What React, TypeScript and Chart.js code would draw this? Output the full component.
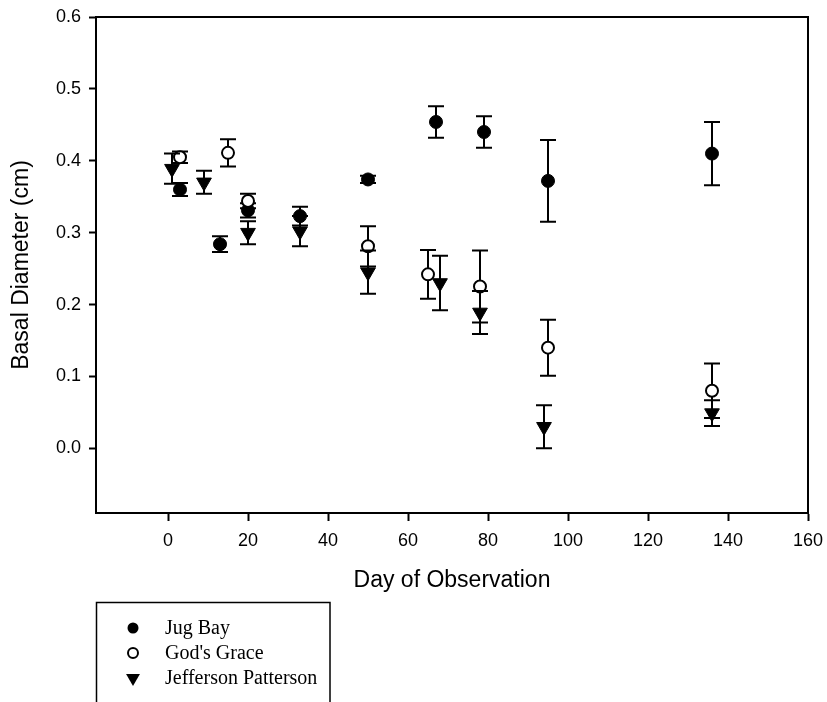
import { useEffect, useRef } from 'react';
import { Chart, registerables } from 'chart.js';

Chart.register(...registerables);

const seriesNames = ['Jug Bay', "God's Grace", 'Jefferson Patterson'];

const jugBayDays = [3, 13, 20, 33, 50, 67, 79, 95, 136];
const jugBayMean = [0.36, 0.284, 0.331, 0.323, 0.374, 0.454, 0.44, 0.372, 0.41];
const jugBayErr = [0.009, 0.011, 0.01, 0.013, 0.005, 0.022, 0.022, 0.057, 0.044];

const godsGraceDays = [3, 15, 20, 50, 65, 78, 95, 136];
const godsGraceMean = [0.405, 0.411, 0.344, 0.281, 0.242, 0.225, 0.14, 0.08];
const godsGraceErr = [0.008, 0.019, 0.01, 0.028, 0.034, 0.05, 0.039, 0.038];

const jeffDays = [1, 9, 20, 33, 50, 68, 78, 94, 136];
const jeffMean = [0.389, 0.37, 0.3, 0.302, 0.245, 0.23, 0.189, 0.03, 0.049];
const jeffErr = [0.021, 0.016, 0.016, 0.021, 0.03, 0.038, 0.03, 0.03, 0.018];

const xMin = -18;
const xMax = 160;
const xStep = 20;
const yMin = -0.09;
const yMax = 0.6;
const yStep = 0.1;

const W = 827;
const H = 702;
const SANS = 'Arial, "Liberation Sans", sans-serif';
const SERIF = '"Times New Roman", "Liberation Serif", serif';

function toPoints(xs: number[], ys: number[]) {
  return xs.map((x, i) => ({ x, y: ys[i] }));
}

const errorBarPlugin = {
  id: 'errorBars',
  beforeDatasetDraw(chart: any, args: any) {
    const ds = chart.data.datasets[args.index];
    const errs: number[] = ds.errors || [];
    const ys = chart.scales.y;
    const ctx = chart.ctx;
    ctx.save();
    ctx.strokeStyle = '#000';
    ctx.lineWidth = 2;
    args.meta.data.forEach((el: any, i: number) => {
      const v = ds.data[i].y;
      const e = errs[i] || 0;
      const x = el.x;
      const yt = ys.getPixelForValue(v + e);
      const yb = ys.getPixelForValue(v - e);
      const cap = 8;
      ctx.beginPath();
      ctx.moveTo(x, yt);
      ctx.lineTo(x, yb);
      ctx.moveTo(x - cap, yt);
      ctx.lineTo(x + cap, yt);
      ctx.moveTo(x - cap, yb);
      ctx.lineTo(x + cap, yb);
      ctx.stroke();
    });
    ctx.restore();
  },
};

function drawMarker(ctx: CanvasRenderingContext2D, kind: number, x: number, y: number) {
  ctx.save();
  ctx.strokeStyle = '#000';
  ctx.fillStyle = '#000';
  ctx.lineWidth = 2;
  ctx.beginPath();
  if (kind === 0) {
    ctx.arc(x, y, 5.5, 0, Math.PI * 2);
    ctx.fill();
  } else if (kind === 1) {
    ctx.fillStyle = '#fff';
    ctx.arc(x, y, 5, 0, Math.PI * 2);
    ctx.fill();
    ctx.stroke();
  } else {
    const r = 8;
    ctx.moveTo(x, y + r);
    ctx.lineTo(x - r * 0.866, y - r / 2);
    ctx.lineTo(x + r * 0.866, y - r / 2);
    ctx.closePath();
    ctx.fill();
  }
  ctx.restore();
}

const framePlugin = {
  id: 'frameAndLegend',
  afterDraw(chart: any) {
    const ctx = chart.ctx;
    const a = chart.chartArea;
    ctx.save();
    ctx.strokeStyle = '#000';
    ctx.lineWidth = 2;
    ctx.beginPath();
    ctx.moveTo(a.left, a.top);
    ctx.lineTo(a.right, a.top);
    ctx.lineTo(a.right, a.bottom);
    ctx.stroke();

    // legend box
    ctx.lineWidth = 1.5;
    ctx.strokeRect(96.5, 602.5, 233.5, 130);
    ctx.font = '20px ' + SERIF;
    ctx.fillStyle = '#000';
    ctx.textBaseline = 'middle';
    ctx.textAlign = 'left';
    const rows = [628, 653, 678];
    chart.data.datasets.forEach((ds: any) => {
      const k = ds.legendIndex;
      drawMarker(ctx, k, 133, rows[k]);
      ctx.fillText(ds.label, 165, rows[k] + 1);
    });
    ctx.restore();
  },
};

export default function App() {
  const ref = useRef<HTMLCanvasElement | null>(null);
  useEffect(() => {
    if (!ref.current) return;
    const tickFont = { family: SANS, size: 18 };
    const titleFont = { family: SANS, size: 23 };
    const chart = new Chart(ref.current, {
      type: 'scatter',
      data: {
        datasets: [
          {
            label: seriesNames[0],
            data: toPoints(jugBayDays, jugBayMean),
            errors: jugBayErr,
            legendIndex: 0,
            order: 3,
            pointStyle: 'circle',
            pointRadius: 6.5,
            backgroundColor: '#000',
            borderColor: '#000',
            borderWidth: 1,
          } as any,
          {
            label: seriesNames[1],
            data: toPoints(godsGraceDays, godsGraceMean),
            errors: godsGraceErr,
            legendIndex: 1,
            order: 2,
            pointStyle: 'circle',
            pointRadius: 6,
            backgroundColor: '#fff',
            borderColor: '#000',
            borderWidth: 2,
          } as any,
          {
            label: seriesNames[2],
            data: toPoints(jeffDays, jeffMean),
            errors: jeffErr,
            legendIndex: 2,
            order: 1,
            pointStyle: 'triangle',
            rotation: 180,
            pointRadius: 8.5,
            backgroundColor: '#000',
            borderColor: '#000',
            borderWidth: 1,
          } as any,
        ],
      },
      options: {
        animation: false,
        responsive: false,
        devicePixelRatio: 1,
        layout: { padding: { left: 0, right: 19, top: 17, bottom: 108 } },
        plugins: { legend: { display: false }, tooltip: { enabled: false } },
        scales: {
          x: {
            type: 'linear',
            min: xMin,
            max: xMax,
            ticks: {
              stepSize: xStep,
              includeBounds: false,
              color: '#000',
              font: tickFont,
              padding: 9,
              maxRotation: 0,
              autoSkip: false,
            },
            grid: {
              display: true,
              drawOnChartArea: false,
              drawTicks: true,
              tickLength: 8,
              tickColor: '#000',
              tickWidth: 2,
            },
            border: { display: true, color: '#000', width: 2 },
            title: {
              display: true,
              text: 'Day of Observation',
              color: '#000',
              font: titleFont,
              padding: { top: 4, bottom: 0 },
            },
            afterFit: (s: any) => {
              s.height = H - 108 - 513;
              s.paddingLeft = 0;
              s.paddingRight = 0;
            },
          },
          y: {
            type: 'linear',
            min: yMin,
            max: yMax,
            ticks: {
              stepSize: yStep,
              includeBounds: false,
              color: '#000',
              font: tickFont,
              padding: 8,
              callback: (v: any) => Number(v).toFixed(1),
            },
            grid: {
              display: true,
              drawOnChartArea: false,
              drawTicks: true,
              tickLength: 7,
              tickColor: '#000',
              tickWidth: 2,
            },
            border: { display: true, color: '#000', width: 2 },
            title: {
              display: true,
              text: 'Basal Diameter (cm)',
              color: '#000',
              font: titleFont,
              padding: { top: 8, bottom: 0 },
            },
            afterFit: (s: any) => {
              s.width = 96;
              s.paddingTop = 0;
              s.paddingBottom = 0;
            },
          },
        },
      } as any,
      plugins: [errorBarPlugin, framePlugin],
    });
    return () => chart.destroy();
  }, []);
  return (
    <div style={{ position: 'absolute', left: 0, top: 0, width: W, height: H, background: '#fff' }}>
      <canvas ref={ref} width={W} height={H} style={{ width: W, height: H, display: 'block' }} />
    </div>
  );
}
